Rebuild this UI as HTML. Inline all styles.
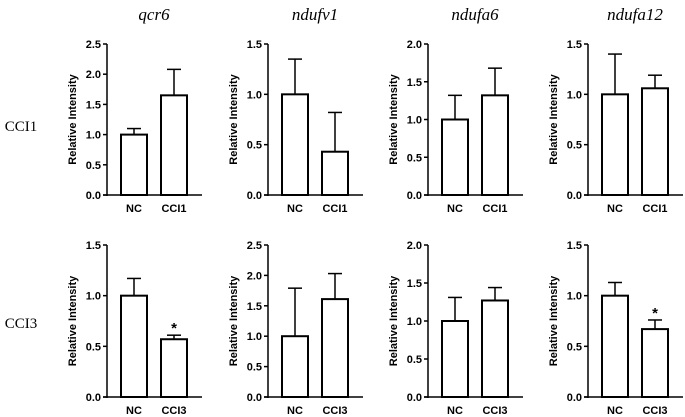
<!DOCTYPE html>
<html><head><meta charset="utf-8"><style>
html,body{margin:0;padding:0;background:#fff;}
svg{display:block;}
</style></head><body>
<svg id="c" width="685" height="417" xmlns="http://www.w3.org/2000/svg"></svg>
<script>
const genes = ["qcr6","ndufv1","ndufa6","ndufa12"];
const rowLabels = ["CCI1","CCI3"];
const categories = [["NC","CCI1"],["NC","CCI3"]];
const yMax = [[2.5,1.5,2.0,1.5],[1.5,2.5,2.0,1.5]];
const means = [[[1.0,1.65],[1.0,0.43],[1.0,1.32],[1.0,1.06]],[[1.0,0.57],[1.0,1.61],[1.0,1.27],[1.0,0.67]]];
const errTops = [[[1.10,2.08],[1.35,0.82],[1.32,1.68],[1.40,1.19]],[[1.17,0.61],[1.79,2.03],[1.31,1.44],[1.13,0.76]]];
const stars = [[["",""],["",""],["",""],["",""]],[["","*"],["",""],["",""],["","*"]]];

const svg=document.getElementById('c');
const NS="http://www.w3.org/2000/svg";
function mk(t,a,p){const e=document.createElementNS(NS,t);for(const k in a)e.setAttribute(k,a[k]);(p||svg).appendChild(e);return e;}
const axX=[107,268,428,588];
const rowTop=[44,245], rowZero=[195,397];
genes.forEach((g,c)=>{
  const t=mk('text',{x:axX[c]+47,y:20,'text-anchor':'middle','font-family':'Liberation Serif, serif','font-style':'italic','font-size':17});
  t.textContent=g;
  
  
});
rowLabels.forEach((r,i)=>{
  const t=mk('text',{x:21,y:i?328:131,'text-anchor':'middle','font-family':'Liberation Serif, serif','font-size':15});
  t.textContent=r;
  
  
});
for(let r=0;r<2;r++)for(let c=0;c<4;c++){
  const x0=axX[c], top=rowTop[r], z=rowZero[r], m=yMax[r][c];
  const y=v=>z-(v/m)*(z-top);
  const gp=mk('g',{});
  
  
  const ya=mk('line',{x1:x0,y1:top,x2:x0,y2:z+1,stroke:'#000','stroke-width':1.5},gp);
  
  
  const xa=mk('line',{x1:x0-4,y1:z,x2:x0+95,y2:z,stroke:'#000','stroke-width':1.5},gp);
  
  
  for(let v=0;v<=m+1e-9;v+=0.5){
    mk('line',{x1:x0-4,y1:y(v),x2:x0,y2:y(v),stroke:'#000','stroke-width':1.5},gp);
    const tl=mk('text',{x:x0-6,y:y(v)+4,'text-anchor':'end','font-family':'Liberation Sans, sans-serif','font-weight':'bold','font-size':11},gp);
    tl.textContent=v.toFixed(1);
    
    
  }
  const yl=mk('text',{x:0,y:0,transform:`translate(${x0-31},${(top+z)/2}) rotate(-90)`,'text-anchor':'middle','font-family':'Liberation Sans, sans-serif','font-weight':'bold','font-size':11},gp);
  yl.textContent='Relative Intensity';
  
  
  categories[r].forEach((cat,i)=>{
    const bx=x0+14+i*40, bw=26, cx=bx+bw/2;
    const et=y(errTops[r][c][i]), bt=y(means[r][c][i]);
    mk('line',{x1:cx,y1:et,x2:cx,y2:bt,stroke:'#000','stroke-width':1.5},gp);
    mk('line',{x1:cx-7,y1:et,x2:cx+7,y2:et,stroke:'#000','stroke-width':1.5},gp);
    const b=mk('rect',{x:bx,y:bt,width:bw,height:z-bt,fill:'#fff',stroke:'#000','stroke-width':2},gp);
    
    
    const xl=mk('text',{x:cx,y:z+17,'text-anchor':'middle','font-family':'Liberation Sans, sans-serif','font-weight':'bold','font-size':11},gp);
    xl.textContent=cat;
    
    
    if(stars[r][c][i]){
      const s=mk('text',{x:cx,y:et-2,'text-anchor':'middle','font-family':'Liberation Sans, sans-serif','font-weight':'bold','font-size':15},gp);
      s.textContent=stars[r][c][i];
      
      
    }
  });
}
</script>
</body></html>
